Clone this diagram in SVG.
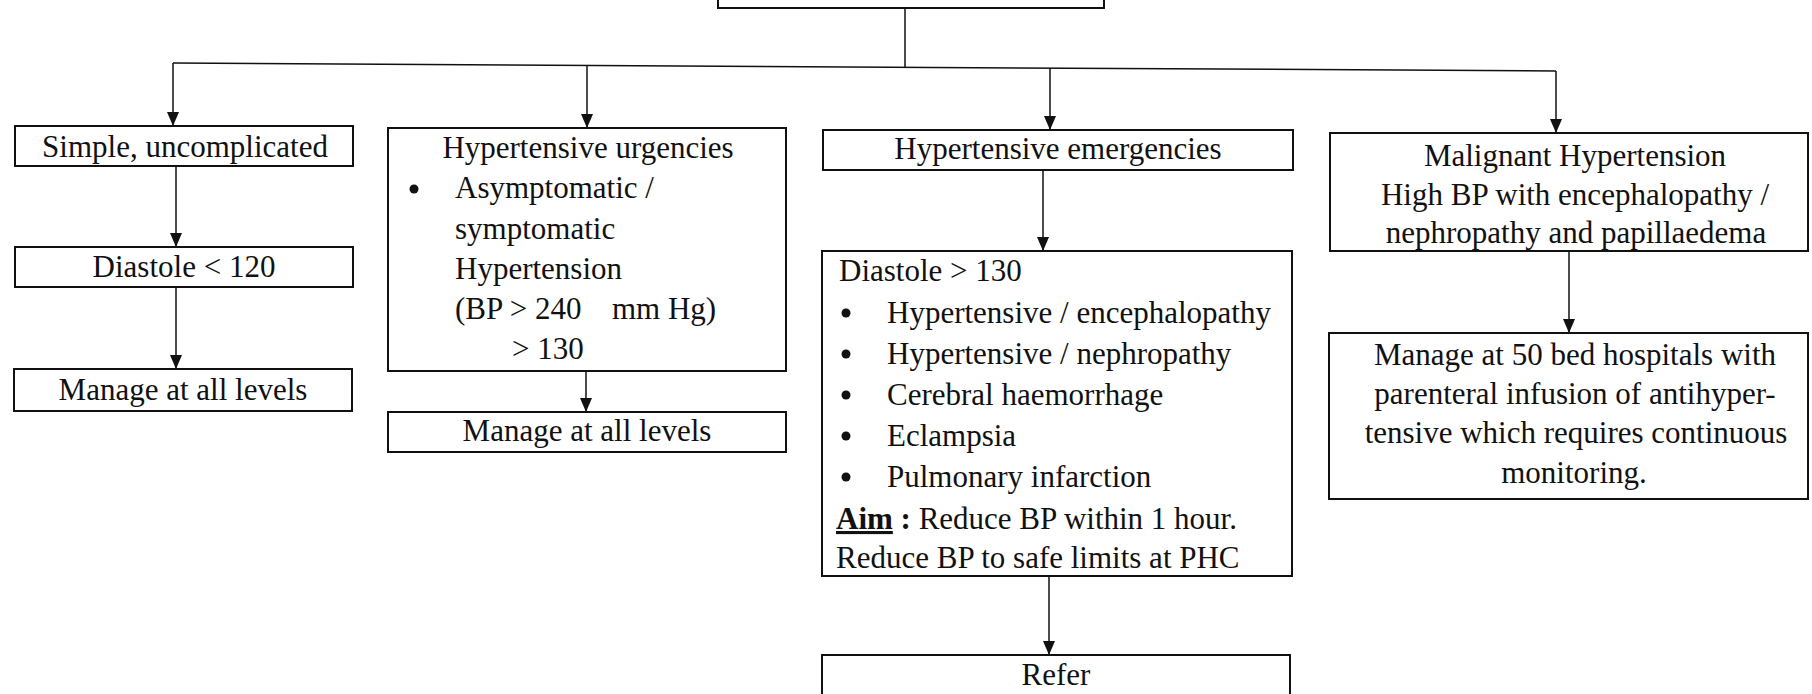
<svg xmlns="http://www.w3.org/2000/svg" width="1812" height="694" viewBox="0 0 1812 694">
  <defs>
    <marker id="arrow" markerUnits="userSpaceOnUse" markerWidth="14" markerHeight="12" refX="14" refY="6" orient="auto">
      <path d="M0,0 L14,6 L0,12 z" fill="#111"/>
    </marker>
    <style>
      .box { fill: #fff; stroke: #111; stroke-width: 2; }
      .conn { fill: none; stroke: #111; stroke-width: 1.5; }
      .arr { fill: none; stroke: #111; stroke-width: 1.5; marker-end: url(#arrow); }
      text { font-family: "Liberation Serif", "Times New Roman", serif; font-size: 31px; fill: #111; }
      .c { text-anchor: middle; }
      .b { font-weight: bold; }
    </style>
  </defs>
  <rect width="1812" height="694" fill="#fff"/>

  <g id="connectors">
    <line class="conn" x1="905" y1="8" x2="905" y2="67"/>
    <line class="conn" x1="173" y1="63" x2="1556" y2="71"/>
    <line class="arr" x1="173" y1="63" x2="173" y2="126"/>
    <line class="arr" x1="587" y1="65.4" x2="587" y2="128"/>
    <line class="arr" x1="1050" y1="68" x2="1050" y2="130"/>
    <line class="arr" x1="1556" y1="71" x2="1556" y2="133"/>
    <line class="arr" x1="176" y1="166" x2="176" y2="247"/>
    <line class="arr" x1="176" y1="287" x2="176" y2="369"/>
    <line class="arr" x1="586" y1="371" x2="586" y2="412"/>
    <line class="arr" x1="1043" y1="170" x2="1043" y2="251"/>
    <line class="arr" x1="1049" y1="576" x2="1049" y2="655"/>
    <line class="arr" x1="1569" y1="251" x2="1569" y2="333"/>
  </g>

  <g id="root">
    <rect class="box" x="718" y="-40" width="386" height="48"/>
  </g>

  <g id="simple">
    <rect class="box" x="15" y="126" width="338" height="40"/>
    <text class="c" x="185" y="157">Simple, uncomplicated</text>
  </g>
  <g id="diastole-120">
    <rect class="box" x="15" y="247" width="338" height="40"/>
    <text class="c" x="184" y="277">Diastole &lt; 120</text>
  </g>
  <g id="manage-all-1">
    <rect class="box" x="14" y="369" width="338" height="42"/>
    <text class="c" x="183" y="400">Manage at all levels</text>
  </g>

  <g id="urgencies">
    <rect class="box" x="388" y="128" width="398" height="243"/>
    <text class="c" x="588" y="158">Hypertensive urgencies</text>
    <circle cx="414" cy="189" r="4.5" fill="#111"/>
    <text x="455" y="198">Asymptomatic /</text>
    <text x="455" y="239">symptomatic</text>
    <text x="455" y="279">Hypertension</text>
    <text x="455" y="319">(BP &gt; 240<tspan x="612">mm Hg)</tspan></text>
    <text x="512" y="359">&gt; 130</text>
  </g>
  <g id="manage-all-2">
    <rect class="box" x="388" y="412" width="398" height="40"/>
    <text class="c" x="587" y="441">Manage at all levels</text>
  </g>

  <g id="emergencies">
    <rect class="box" x="823" y="130" width="470" height="40"/>
    <text class="c" x="1058" y="159">Hypertensive emergencies</text>
  </g>
  <g id="diastole-130">
    <rect class="box" x="822" y="251" width="470" height="325"/>
    <text x="839" y="281">Diastole &gt; 130</text>
    <circle cx="846" cy="313" r="4.5" fill="#111"/>
    <text x="887" y="323">Hypertensive / encephalopathy</text>
    <circle cx="846" cy="354" r="4.5" fill="#111"/>
    <text x="887" y="364">Hypertensive / nephropathy</text>
    <circle cx="846" cy="395" r="4.5" fill="#111"/>
    <text x="887" y="405">Cerebral haemorrhage</text>
    <circle cx="846" cy="436" r="4.5" fill="#111"/>
    <text x="887" y="446">Eclampsia</text>
    <circle cx="846" cy="477" r="4.5" fill="#111"/>
    <text x="887" y="487">Pulmonary infarction</text>
    <text x="836" y="529"><tspan class="b" text-decoration="underline">Aim</tspan><tspan class="b"> :</tspan> Reduce BP within 1 hour.</text>
    <text x="836" y="568">Reduce BP to safe limits at PHC</text>
  </g>
  <g id="refer">
    <rect class="box" x="822" y="655" width="468" height="50"/>
    <text class="c" x="1056" y="685">Refer</text>
  </g>

  <g id="malignant">
    <rect class="box" x="1330" y="133" width="478" height="118"/>
    <text class="c" x="1575" y="166">Malignant Hypertension</text>
    <text class="c" x="1575" y="205">High BP with encephalopathy /</text>
    <text class="c" x="1576" y="243">nephropathy and papillaedema</text>
  </g>
  <g id="manage-50-bed">
    <rect class="box" x="1329" y="333" width="479" height="166"/>
    <text class="c" x="1575" y="365">Manage at 50 bed hospitals with</text>
    <text class="c" x="1575" y="404">parenteral infusion of antihyper-</text>
    <text class="c" x="1576" y="443">tensive which requires continuous</text>
    <text class="c" x="1574" y="483">monitoring.</text>
  </g>
</svg>
